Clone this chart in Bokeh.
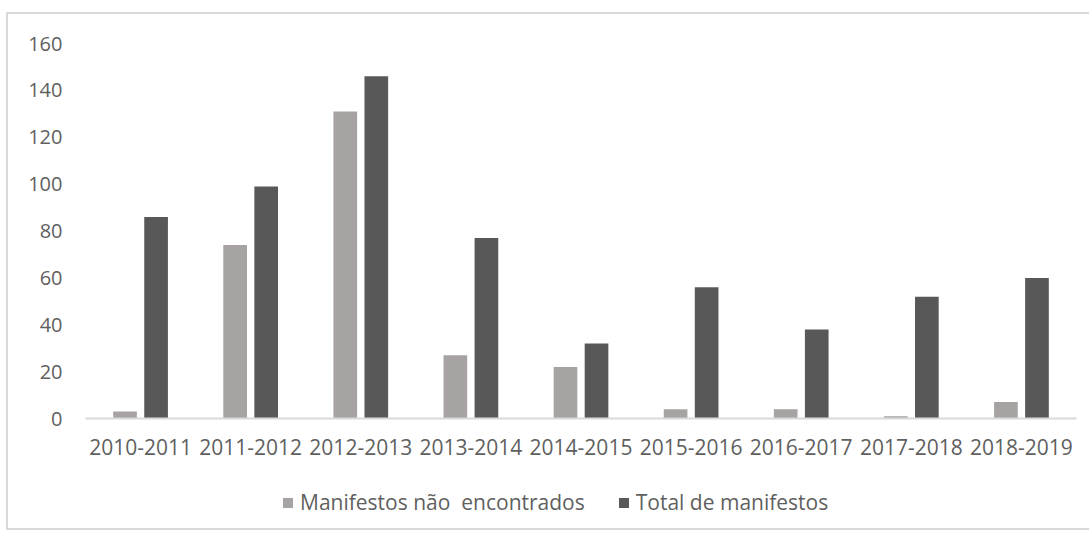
from bokeh.plotting import figure
from bokeh.layouts import column
from bokeh.models import ColumnDataSource, Legend, LegendItem, FixedTicker
from bokeh.transform import dodge
from bokeh.embed import file_html
from bokeh.resources import INLINE

categories = ["2010-2011", "2011-2012", "2012-2013", "2013-2014", "2014-2015",
              "2015-2016", "2016-2017", "2017-2018", "2018-2019"]
nao_encontrados = [3, 74, 131, 27, 22, 4, 4, 1, 7]
total_manifestos = [86, 99, 146, 77, 32, 56, 38, 52, 60]
y_ticks = [0, 20, 40, 60, 80, 100, 120, 140, 160]
series_labels = ["Manifestos não  encontrados", "Total de manifestos"]
series_colors = ["#a7a3a3", "#585858"]

FONT = "Open Sans"
TXT = "#5f5f5f"
W = 1083

src = ColumnDataSource(dict(cat=categories, a=nao_encontrados, b=total_manifestos))

p = figure(x_range=categories, y_range=(0, 160), width=W, height=446,
           output_backend="svg", toolbar_location=None,
           min_border_left=77, min_border_right=15, min_border_top=29, min_border_bottom=42)

p.vbar(x=dodge("cat", -0.141, range=p.x_range), top="a", width=0.215, source=src,
       fill_color=series_colors[0], line_color=None)
p.vbar(x=dodge("cat", 0.141, range=p.x_range), top="b", width=0.215, source=src,
       fill_color=series_colors[1], line_color=None)

p.outline_line_color = None
p.xgrid.grid_line_color = None
p.ygrid.grid_line_color = None
p.x_range.range_padding = 0

p.yaxis.ticker = FixedTicker(ticks=y_ticks)
p.yaxis.axis_line_color = None
p.yaxis.major_tick_line_color = None
p.yaxis.minor_tick_line_color = None
p.yaxis.major_label_standoff = 17
p.yaxis.major_label_text_font = FONT
p.yaxis.major_label_text_font_size = "20px"
p.yaxis.major_label_text_color = TXT

p.xaxis.axis_line_color = "#d9d9d9"
p.xaxis.axis_line_width = 2
p.xaxis.major_tick_line_color = None
p.xaxis.minor_tick_line_color = None
p.xaxis.major_label_standoff = 14
p.xaxis.major_label_text_font = FONT
p.xaxis.major_label_text_font_size = "21px"
p.xaxis.major_label_text_color = TXT

# legend strip below the chart (its frame is aligned with the chart's frame)
leg = figure(width=W, height=68, x_range=(0, 1), y_range=(0, 1),
             output_backend="svg", toolbar_location=None,
             min_border_left=0, min_border_right=0, min_border_top=0, min_border_bottom=0,
             x_axis_location=None, y_axis_location=None)
leg.outline_line_color = None
leg.xgrid.grid_line_color = None
leg.ygrid.grid_line_color = None
swatch = ColumnDataSource(dict(x=[float("nan")], y=[float("nan")]))
g1 = leg.scatter(x="x", y="y", marker="square", size=10, source=swatch,
                 fill_color=series_colors[0], line_color=None)
g2 = leg.scatter(x="x", y="y", marker="square", size=10, source=swatch,
                 fill_color=series_colors[1], line_color=None)

legend = Legend(items=[LegendItem(label=series_labels[0], renderers=[g1], index=0),
                       LegendItem(label=series_labels[1], renderers=[g2], index=0)],
                orientation="horizontal", location=(190, 12),
                label_text_font=FONT, label_text_font_size="21px", label_text_color=TXT,
                glyph_width=25, glyph_height=25, label_standoff=0, spacing=26,
                border_line_color=None, background_fill_alpha=0, padding=0, margin=0)
leg.add_layout(legend, "center")

layout = column(p, leg, margin=(14, 0, 7, 8),
                styles={"box-shadow": "-2px -2px 0 0 #d9d9d9, -2px 2px 0 0 #d9d9d9"})

open("out.html", "w").write(file_html(layout, INLINE))
